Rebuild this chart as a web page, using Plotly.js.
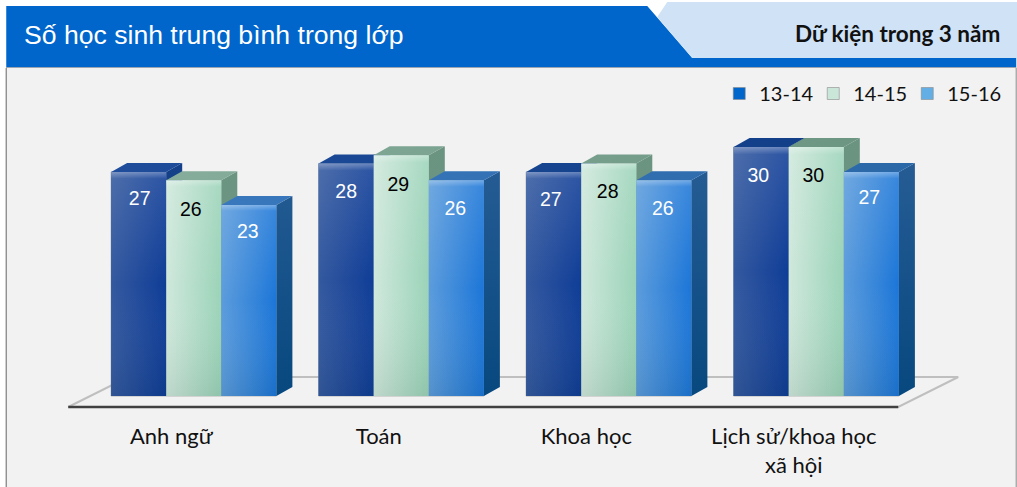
<!DOCTYPE html>
<html><head><meta charset="utf-8">
<script src="https://cdn.plot.ly/plotly-3.0.1.min.js"></script>
<style>html,body{margin:0;padding:0;background:#fff}#c{width:1017px;height:487px}</style>
</head><body><div id="c"></div>
<script>
const categories = ["Anh ngữ", "Toán", "Khoa học", "Lịch sử/khoa học<br>xã hội"];
const seriesNames = ["13-14", "14-15", "15-16"];
const values1314 = [27, 28, 27, 30];
const values1415 = [26, 29, 28, 30];
const values1516 = [23, 26, 26, 27];
const labelY1314 = [23.6, 24.5, 23.5, 26.4];
const labelY1415 = [22.3, 25.3, 24.5, 26.4];
const labelY1516 = [19.6, 22.4, 22.4, 23.7];
const labelShift1314 = [0.005, 0, -0.014, -0.014];
const labelShift1415 = [-0.014, -0.014, -0.005, -0.014];
const labelShift1516 = [-0.005, -0.005, -0.005, -0.01];

const W = 1017, H = 487;
const mL = 89.75, mR = 97.25, mT = 70, mB = 66;
const allValues = [values1314, values1415, values1516];
const allLabels = [labelY1314, labelY1415, labelY1516];
const allShifts = [labelShift1314, labelShift1415, labelShift1516];
const legendColors = ["#0066cc", "#c9e6d9", "#63afe5"];
const textColors = ["#ffffff", "#000000", "#ffffff"];
const frontStops = [["#34599f", "#0f3d97"], ["#cfe8dc", "#9bd3b8"], ["#5c9cdc", "#1c76d8"]];
const sideStops = [["#15418a", "#083a7c"], ["#6a9380", "#6f9c88"], ["#265c94", "#07487f"]];
const topStops = [["#1f4d9b", "#123f88"], ["#86ad9b", "#6c9582"], ["#3a78bd", "#2a68a8"]];

const barW = 0.2655, dX = 0.0771, dY = 1.084;
const slotX = (i, s) => i + (s - 1.5) * barW;   // left edge of a bar

const traces = [];
allValues.forEach((vals, s) => {
  traces.push({type: "bar", name: seriesNames[s], x: categories.map((_, i) => i), y: vals,
    width: barW, offset: (s - 1.5) * barW,
    marker: {color: legendColors[s], line: {color: "#8a8a8a", width: 0.6}}, hoverinfo: "skip"});
});
allValues.forEach((vals, s) => {
  const sx = [], sy = [], tx = [], ty = [];
  vals.forEach((v, i) => {
    const l = slotX(i, s), r = l + barW;
    sx.push(r, r + dX, r + dX, r, r, null); sy.push(0, dY, v + dY, v, 0, null);
    tx.push(l, l + dX, r + dX, r, l, null); ty.push(v, v + dY, v + dY, v, v, null);
  });
  const base = {type: "scatter", mode: "lines", line: {width: 0, color: "rgba(0,0,0,0)"},
    fill: "toself", showlegend: false, hoverinfo: "skip"};
  traces.push(Object.assign({}, base, {x: sx, y: sy,
    fillgradient: {type: "vertical", colorscale: [[0, sideStops[s][1]], [1, sideStops[s][0]]]}}));
  traces.push(Object.assign({}, base, {x: tx, y: ty,
    fillgradient: {type: "horizontal", colorscale: [[0, topStops[s][0]], [1, topStops[s][1]]]}}));
  vals.forEach((v, i) => {
    const l = slotX(i, s), r = l + barW;
    const fx = [l, r, r, l, l], fy = [0, 0, v, v, 0];
    traces.push(Object.assign({}, base, {x: fx, y: fy,
      fillgradient: {type: "horizontal", colorscale: [[0, frontStops[s][0]], [1, frontStops[s][1]]]}}));
    traces.push(Object.assign({}, base, {x: fx, y: fy,
      fillgradient: {type: "vertical", colorscale: [[0, "rgba(0,20,10,0.08)"], [0.5, "rgba(255,255,255,0)"], [0.97, "rgba(255,255,255,0.12)"], [1, "rgba(255,255,255,0.38)"]]}}));
  });
});
allValues.forEach((vals, s) => {
  traces.push({type: "scatter", mode: "text", showlegend: false, hoverinfo: "skip",
    x: vals.map((_, i) => slotX(i, s) + barW / 2 + allShifts[s][i]), y: allLabels[s], text: vals.map(String),
    textposition: "middle center",
    textfont: {family: "Liberation Sans, Arial, sans-serif", size: 19.5, color: textColors[s]}});
});

const plotW = W - mL - mR, plotH = H - mT - mB;
const px = (x) => (x - mL) / plotW, py = (y) => (H - mB - y) / plotH;
const poly = (pts, fill, lineColor, lw) => ({type: "path", xref: "paper", yref: "paper", layer: "below",
  path: "M" + pts.map(p => px(p[0]) + "," + py(p[1])).join(" L") + " Z",
  fillcolor: fill, line: {color: lineColor || "rgba(0,0,0,0)", width: lw || 0}});

const layout = {
  width: W, height: H, paper_bgcolor: "#ffffff", plot_bgcolor: "rgba(0,0,0,0)",
  margin: {l: mL, r: mR, t: mT, b: mB, pad: 0},
  barmode: "overlay", showlegend: true,
  title: {text: "Số học sinh trung bình trong lớp", x: 24 / W, xanchor: "left", y: 1 - 35 / H, yanchor: "middle",
    font: {family: "Liberation Sans, Arial, sans-serif", size: 26.6, color: "#ffffff"}},
  legend: {orientation: "h", x: px(1001), xanchor: "right", y: py(74), yanchor: "top",
    bgcolor: "rgba(0,0,0,0)", entrywidth: 49, entrywidthmode: "pixels", traceorder: "normal",
    font: {family: "Lato, sans-serif", size: 20, color: "#111111"}},
  xaxis: {type: "linear", range: [-0.5, 3.5], tickmode: "array",
    tickvals: categories.map((_, i) => i - 0.108), ticktext: categories,
    showgrid: false, zeroline: false, showline: false, ticks: "", ticklen: 0,
    tickfont: {family: "Lato, sans-serif", size: 22, color: "#111111"}, automargin: false},
  yaxis: {range: [-3.012, 39.28], visible: false, fixedrange: true},
  annotations: [{xref: "paper", yref: "paper", x: px(1002), y: py(33), xanchor: "right", yanchor: "middle",
    showarrow: false, text: "<b>Dữ kiện trong 3 năm</b>",
    font: {family: "Lato, sans-serif", size: 22.5, color: "#111111"}}],
  shapes: [
    poly([[6, 67], [1016, 67], [1016, 487], [6, 487]], "#f2f2f2"),
    poly([[6, 68], [6, 487]], "rgba(0,0,0,0)", "#8c8c8c", 1),
    poly([[1016, 68], [1016, 487]], "rgba(0,0,0,0)", "#a6a6a6", 1),
    poly([[6, 6], [647, 6], [692, 58], [1016, 58], [1016, 67], [6, 67]], "#0066cc"),
    poly([[692, 58], [657, 17], [667, 2], [1017, 2], [1017, 58]], "#cfe2f6"),
    poly([[6, 67.5], [1016, 67.5]], "rgba(0,0,0,0)", "#9aa5b1", 1),
    poly([[68, 407], [898, 407], [958, 377], [128, 377]], "#f2f2f2", "#bfbfbf", 2),
    poly([[68, 407], [898, 407]], "rgba(0,0,0,0)", "#404040", 2.5)
  ]
};
Plotly.newPlot("c", traces, layout, {displayModeBar: false, staticPlot: true});
</script></body></html>
